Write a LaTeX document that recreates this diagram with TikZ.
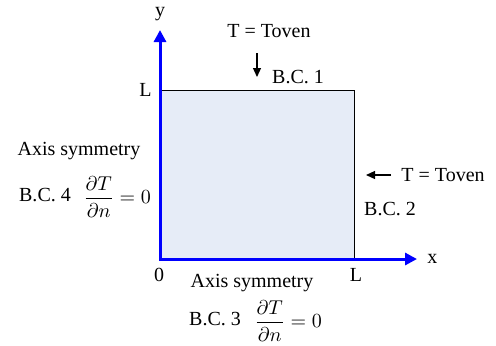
\documentclass[tikz,border=0pt]{standalone}
\usepackage{fontspec}
\setmainfont{Liberation Serif}
\usepackage{amsmath}
\usetikzlibrary{arrows.meta,positioning}
\definecolor{axisblue}{HTML}{0000FF}
\definecolor{domainfill}{HTML}{E6ECF7}

\begin{document}
\begin{tikzpicture}[
  x=0.5pt,y=-0.5pt,
  axis/.style={axisblue,line width=1.5pt,{Triangle[length=6pt,width=6pt]}-{Triangle[length=6pt,width=6pt]}},
  flux/.style={line width=0.6pt,-{Triangle[length=4.5pt,width=4pt]}},
  every node/.style={font=\fontsize{10}{12}\selectfont,inner sep=1pt}
]
  \useasboundingbox (0,0) rectangle (496,345);
  % domain
  \coordinate (origin) at (160,259);
  \coordinate (topleft) at (160,90);
  \coordinate (topright) at (354,90);
  \coordinate (botright) at (354,259);
  \fill[domainfill] (origin) rectangle (topright);
  \draw[line width=0.5pt] (topleft) -- (topright) -- (botright);
  % axes
  \coordinate (ytip) at (160,30);
  \coordinate (xtip) at (417,259);
  \draw[axis] (ytip) -- (origin) -- (xtip);
  \node (ylabel) at (160,14) {y};
  \node[right=4pt of xtip] (xlabel) {x};
  \node[left=3pt of topleft] (ltop) {L};
  \node (zero) at (159,275) {0};
  \node (lright) at (356,275) {L};
  % B.C. 1
  \node (toventop) at (269,31) {T = Toven};
  \coordinate (flux1start) at (257,53);
  \coordinate (flux1end) at (257,77);
  \draw[flux] (flux1start) -- (flux1end);
  \node (bc1) at (298,77) {B.C. 1};
  % B.C. 2
  \coordinate (flux2start) at (391,175);
  \coordinate (flux2end) at (366,175);
  \draw[flux] (flux2start) -- (flux2end);
  \node[right=4pt of flux2start] (tovenright) {T = Toven};
  \node (bc2) at (390,209) {B.C. 2};
  % B.C. 4
  \node (axisleft) at (79,151) {Axis symmetry};
  \node (bc4) at (45,195) {B.C. 4};
  \node (gradleft) at (117,197) {$\dfrac{\partial T}{\partial n}=0$};
  % B.C. 3
  \node (axisbottom) at (252,283) {Axis symmetry};
  \node (bc3) at (215,319) {B.C. 3};
  \node (gradbottom) at (288,321) {$\dfrac{\partial T}{\partial n}=0$};
\end{tikzpicture}
\end{document}
